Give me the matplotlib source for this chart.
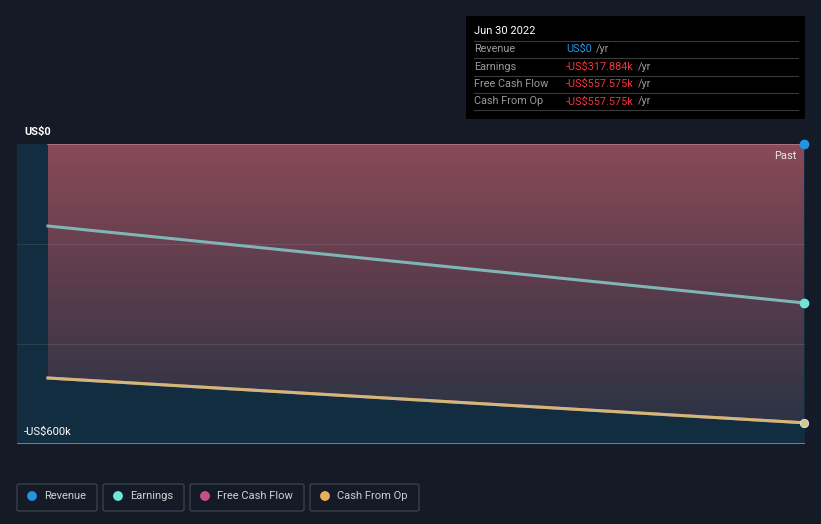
import numpy as np
import matplotlib.pyplot as plt
from matplotlib.patches import Rectangle, FancyBboxPatch, Polygon, Ellipse
from matplotlib.colors import LinearSegmentedColormap

plt.rcParams['font.family'] = ['Roboto', 'DejaVu Sans']

# data (US$k), two points: start of window and Jun 30 2022
x = [0, 1]
revenue = [0, 0]
earnings = [-164, -317.884]
free_cash_flow = [-468, -557.575]
cash_from_op = [-468, -557.575]

legend_labels = ["Revenue", "Earnings", "Free Cash Flow", "Cash From Op"]
legend_colors = ["#2394df", "#6ee6d8", "#c44f8c", "#e8ae5c"]

bg = "#151b26"
plot_bg = "#112d3f"

fig = plt.figure(figsize=(8.21, 5.24), dpi=100, facecolor=bg)
W, H = 821, 524
ax = fig.add_axes([17 / W, (H - 444) / H, 788 / W, 300 / H])
ax.set_facecolor(plot_bg)
x0 = -31 / 756
x1 = 1 + 1 / 756
ax.set_xlim(x0, x1)
ax.set_ylim(-600, 0)

# gradient fill between 0 and the cash flow line
cmap = LinearSegmentedColormap.from_list("g", ["#2b3444", "#5a3c4c", "#8a4a58"])
grad = np.linspace(0, 1, 256).reshape(-1, 1)
im = ax.imshow(grad, cmap=cmap, aspect="auto", origin="lower",
               extent=[0, 1, min(free_cash_flow), 0], zorder=1)
poly = Polygon([(0, 0), (1, 0), (1, free_cash_flow[1]), (0, free_cash_flow[0])],
               closed=True, transform=ax.transData, facecolor="none", edgecolor="none")
ax.add_patch(poly)
im.set_clip_path(poly)

for yv in [-200, -400]:
    ax.axhline(yv, color="#ffffff", alpha=0.1, lw=0.8, zorder=2)

ax.plot(x, revenue, color="#b27a8a", lw=1.2, zorder=3)
ax.plot(x, earnings, color="#7fb5b5", lw=2.2, zorder=4)
ax.plot(x, free_cash_flow, color="#c44f8c", lw=2.2, zorder=4)
ax.plot(x, cash_from_op, color="#d0b878", lw=2.2, zorder=5)

ax.scatter([1], [revenue[1]], s=36, color=legend_colors[0], zorder=6, clip_on=False)
ax.scatter([1], [earnings[1]], s=36, color=legend_colors[1], zorder=6, clip_on=False)
ax.scatter([1], [cash_from_op[1]], s=36, color="#d6c88c", edgecolor="#e6e6e6",
           linewidths=0.6, zorder=6, clip_on=False)

ax.axhline(-600, color="#8a8f98", lw=1.2, zorder=6)
for s in ax.spines.values():
    s.set_visible(False)
ax.set_xticks([])
ax.set_yticks([])

ax.text(1 - 8 / 756, -24, "Past", color="#e8e8e8", fontsize=8, ha="right", va="center", zorder=7)
fig.text(24 / W, 1 - 132 / H, "US$0", color="#ffffff", fontsize=8, va="center", fontweight="bold")
fig.text(24 / W, 1 - 432 / H, "-US$600k", color="#ffffff", fontsize=8, va="center")

# tooltip box
fig.patches.append(Rectangle((466 / W, 1 - 119 / H), 339 / W, 103 / H,
                             transform=fig.transFigure, facecolor="#000000", edgecolor="none"))
fig.text(474 / W, 1 - 31 / H, "Jun 30 2022", color="#ffffff", fontsize=8, va="center")
rows = [("Revenue", "US$0", "#2394df"),
        ("Earnings", "-US$317.884k", "#f0353d"),
        ("Free Cash Flow", "-US$557.575k", "#f0353d"),
        ("Cash From Op", "-US$557.575k", "#f0353d")]
for i, (lab, val, c) in enumerate(rows):
    yc = 49 + i * 17.5
    fig.lines.append(plt.Line2D([474 / W, 798 / W], [1 - (yc - 8.5) / H] * 2,
                                transform=fig.transFigure, color="#3a3a3a", lw=0.8))
    fig.text(474 / W, 1 - yc / H, lab, color="#9a9a9a", fontsize=7.8, va="center")
    t = fig.text(566 / W, 1 - yc / H, val, color=c, fontsize=7.8, va="center")
    fig.canvas.draw()
    bb = t.get_window_extent()
    fig.text(bb.x1 / W + 4 / W, 1 - yc / H, "/yr", color="#9a9a9a", fontsize=7.8, va="center")
fig.lines.append(plt.Line2D([474 / W, 798 / W], [1 - 110 / H] * 2,
                            transform=fig.transFigure, color="#3a3a3a", lw=0.8))

# legend boxes
boxes = [(17, 80), (103, 81), (190, 114), (310, 109)]
for (bx, bw), lab, c in zip(boxes, legend_labels, legend_colors):
    fig.patches.append(FancyBboxPatch((bx / W, 1 - 511 / H), bw / W, 27 / H,
                                      boxstyle="round,pad=0,rounding_size=0.003",
                                      transform=fig.transFigure, facecolor="none",
                                      edgecolor="#3e434c", lw=0.9))
    fig.patches.append(Ellipse(((bx + 15) / W, 1 - 496 / H), 8.4 / W, 8.4 / H,
                               transform=fig.transFigure, color=c))
    fig.text((bx + 27) / W, 1 - 496 / H, lab, color="#d0d0d0", fontsize=8, va="center")

fig.savefig("out.png", dpi=100, facecolor=bg)
